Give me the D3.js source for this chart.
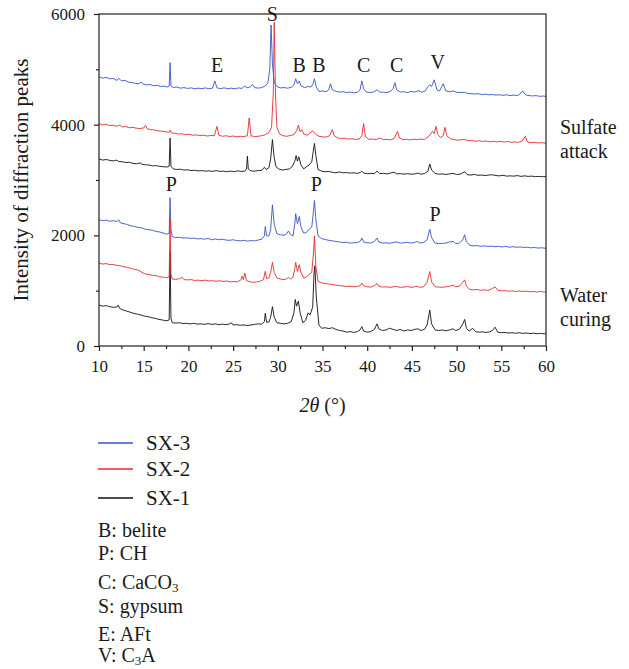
<!DOCTYPE html>
<html>
<head>
<meta charset="utf-8">
<script src="https://cdn.jsdelivr.net/npm/d3@7"></script>
<style>
  body { margin: 0; background: #fff; }
  svg { display: block; font-family: "Liberation Serif", "DejaVu Serif", serif; }
  text { fill: #1a1a1a; }
</style>
</head>
<body>
<svg id="chart" width="629" height="669"></svg>
<script>
// X-ray diffraction patterns, intensity vs 2θ, for three mixes
// after sulfate attack (upper group) and after water curing (lower group).

const seriesNames = ["SX-3", "SX-2", "SX-1"];
const seriesColors = { "SX-3": "#3554c8", "SX-2": "#e82a2c", "SX-1": "#111111" };

const xMajorTicks = [10, 15, 20, 25, 30, 35, 40, 45, 50, 55, 60];
const xMinorTicks = [12.5, 17.5, 22.5, 27.5, 32.5, 37.5, 42.5, 47.5, 52.5, 57.5];
const yMajorTicks = [0, 2000, 4000, 6000];
const yMinorTicks = [1000, 3000, 5000];

// ---- sulfate attack ----
const sx3Sulfate = [[10,4865],[10.4,4840],[10.8,4855],[11.2,4830],[11.6,4835],[12.0,4800],[12.2,4840],[12.5,4790],[12.9,4800],[13.3,4770],[13.7,4760],[14.1,4745],[14.5,4740],[14.7,4775],[14.9,4735],[15.3,4720],[15.7,4725],[16.1,4705],[16.5,4710],[16.9,4690],[17.3,4695],[17.7,4680],[17.85,4700],[17.95,5120],[18.05,4700],[18.3,4670],[18.7,4680],[19.1,4660],[19.5,4670],[19.9,4655],[20.3,4665],[20.7,4650],[21.1,4660],[21.5,4650],[21.9,4665],[22.3,4648],[22.7,4660],[22.95,4790],[23.2,4665],[23.6,4650],[24.0,4665],[24.4,4650],[24.8,4660],[25.2,4648],[25.6,4665],[26.0,4655],[26.3,4705],[26.5,4665],[26.9,4680],[27.2,4725],[27.4,4670],[27.8,4660],[28.2,4670],[28.6,4700],[28.9,4760],[29.1,5000],[29.25,5800],[29.4,5100],[29.6,4760],[29.9,4690],[30.3,4665],[30.7,4670],[31.1,4660],[31.5,4675],[31.8,4720],[32.0,4830],[32.2,4740],[32.4,4790],[32.6,4700],[33.0,4670],[33.4,4690],[33.7,4680],[33.95,4740],[34.1,4830],[34.3,4680],[34.6,4600],[35.0,4610],[35.4,4595],[35.7,4630],[35.9,4740],[36.1,4630],[36.5,4600],[36.9,4590],[37.3,4595],[37.7,4580],[38.1,4590],[38.5,4575],[38.9,4585],[39.2,4630],[39.4,4790],[39.6,4650],[39.9,4590],[40.3,4580],[40.7,4590],[41.1,4630],[41.4,4590],[41.8,4585],[42.2,4580],[42.6,4600],[42.9,4650],[43.1,4760],[43.3,4630],[43.7,4590],[44.1,4595],[44.5,4580],[44.9,4600],[45.3,4590],[45.8,4615],[46.1,4585],[46.5,4610],[46.8,4690],[47.0,4720],[47.2,4690],[47.5,4810],[47.8,4630],[48.1,4610],[48.5,4740],[48.8,4610],[49.2,4595],[49.6,4610],[50.0,4585],[50.4,4580],[50.9,4585],[51.2,4565],[51.6,4560],[52.0,4555],[52.4,4560],[52.8,4545],[53.2,4550],[53.6,4540],[54.0,4545],[54.4,4535],[54.8,4540],[55.2,4530],[55.6,4540],[56.0,4525],[56.4,4535],[56.8,4525],[57.1,4555],[57.4,4610],[57.7,4540],[58.1,4525],[58.5,4520],[58.9,4525],[59.3,4512],[59.7,4518],[60,4510]];

const sx2Sulfate = [[10,4020],[10.4,3995],[10.8,4005],[11.2,3985],[11.6,3990],[12.0,3970],[12.3,3995],[12.6,3960],[13.0,3965],[13.4,3945],[13.8,3950],[14.2,3935],[14.6,3930],[15.0,3940],[15.2,3985],[15.4,3925],[15.8,3910],[16.2,3905],[16.6,3890],[17.0,3880],[17.4,3875],[17.8,3860],[17.95,3900],[18.1,3850],[18.5,3845],[18.9,3830],[19.3,3835],[19.7,3820],[20.1,3825],[20.5,3810],[20.9,3815],[21.3,3800],[21.7,3810],[22.1,3795],[22.5,3805],[22.9,3800],[23.2,3970],[23.4,3810],[23.8,3790],[24.2,3800],[24.6,3785],[25.0,3795],[25.4,3780],[25.8,3790],[26.2,3785],[26.6,3800],[26.8,4120],[27.0,3800],[27.4,3785],[27.8,3790],[28.2,3800],[28.6,3820],[29.0,3860],[29.3,3950],[29.5,4600],[29.6,5850],[29.75,4500],[29.9,3950],[30.2,3830],[30.6,3800],[31.0,3790],[31.4,3805],[31.8,3820],[32.1,3890],[32.3,3990],[32.5,3870],[32.7,3910],[32.9,3830],[33.3,3810],[33.6,3850],[33.9,3890],[34.2,3830],[34.6,3790],[35.0,3780],[35.4,3775],[35.8,3800],[36.1,3910],[36.3,3800],[36.7,3760],[37.1,3750],[37.5,3755],[37.9,3740],[38.3,3745],[38.7,3735],[39.1,3740],[39.4,3800],[39.6,4020],[39.8,3780],[40.2,3735],[40.6,3740],[41.0,3730],[41.4,3760],[41.8,3730],[42.2,3735],[42.6,3725],[43.0,3750],[43.4,3880],[43.6,3760],[44.0,3730],[44.4,3735],[44.8,3725],[45.2,3735],[45.6,3730],[46.0,3740],[46.4,3730],[46.9,3790],[47.3,3880],[47.5,3840],[47.7,3970],[47.9,3820],[48.2,3770],[48.5,3800],[48.7,3950],[48.9,3800],[49.3,3745],[49.7,3730],[50.1,3720],[50.5,3725],[50.9,3735],[51.3,3710],[51.7,3715],[52.1,3700],[52.5,3710],[52.9,3695],[53.3,3705],[53.7,3690],[54.1,3700],[54.5,3690],[54.9,3700],[55.3,3685],[55.7,3695],[56.1,3680],[56.5,3690],[56.9,3680],[57.3,3700],[57.7,3790],[57.9,3690],[58.3,3675],[58.7,3680],[59.1,3670],[59.5,3675],[60,3665]];

const sx1Sulfate = [[10,3380],[10.4,3360],[10.8,3370],[11.2,3355],[11.6,3345],[12.0,3360],[12.2,3335],[12.6,3330],[13.0,3315],[13.4,3320],[13.8,3300],[14.2,3295],[14.6,3310],[14.8,3285],[15.2,3275],[15.6,3270],[16.0,3255],[16.4,3260],[16.8,3245],[17.2,3240],[17.6,3235],[17.85,3250],[17.95,3760],[18.05,3250],[18.3,3200],[18.7,3190],[19.1,3195],[19.5,3180],[19.9,3185],[20.3,3170],[20.7,3175],[21.1,3165],[21.5,3170],[21.9,3160],[22.3,3165],[22.7,3155],[23.1,3170],[23.5,3155],[23.9,3160],[24.3,3150],[24.7,3160],[25.1,3150],[25.5,3165],[25.9,3155],[26.3,3160],[26.5,3200],[26.6,3430],[26.7,3200],[27.0,3165],[27.4,3160],[27.8,3170],[28.2,3175],[28.5,3230],[28.7,3190],[29.0,3220],[29.2,3380],[29.4,3730],[29.6,3400],[29.8,3240],[30.1,3200],[30.5,3180],[30.9,3190],[31.3,3200],[31.6,3240],[31.9,3340],[32.05,3440],[32.2,3340],[32.35,3420],[32.6,3270],[32.9,3200],[33.2,3240],[33.5,3270],[33.8,3330],[34.0,3560],[34.1,3660],[34.25,3450],[34.5,3190],[34.9,3160],[35.3,3150],[35.7,3155],[36.1,3140],[36.5,3130],[36.9,3145],[37.3,3130],[37.7,3135],[38.1,3125],[38.5,3130],[38.9,3120],[39.2,3135],[39.4,3160],[39.6,3125],[40.0,3115],[40.4,3120],[40.8,3115],[41.1,3160],[41.4,3115],[41.8,3120],[42.2,3110],[42.6,3125],[43.0,3140],[43.3,3110],[43.7,3115],[44.1,3105],[44.5,3115],[44.9,3105],[45.3,3110],[45.7,3125],[46.0,3105],[46.4,3115],[46.8,3160],[47.0,3290],[47.2,3180],[47.6,3120],[48.0,3105],[48.4,3110],[48.8,3100],[49.2,3110],[49.6,3120],[50.0,3100],[50.4,3105],[50.9,3150],[51.2,3095],[51.6,3090],[52.0,3100],[52.4,3085],[52.8,3090],[53.2,3080],[53.6,3090],[54.0,3095],[54.4,3080],[54.8,3075],[55.2,3085],[55.6,3070],[56.0,3075],[56.4,3070],[56.8,3080],[57.2,3065],[57.6,3075],[58.0,3065],[58.4,3070],[58.8,3060],[59.2,3065],[59.6,3060],[60,3060]];

// ---- water curing ----
const sx3Water = [[10,2280],[10.4,2265],[10.8,2275],[11.2,2255],[11.6,2265],[12.0,2250],[12.2,2280],[12.4,2225],[12.8,2210],[13.2,2195],[13.6,2170],[14.0,2160],[14.4,2140],[14.8,2135],[15.2,2110],[15.6,2100],[16.0,2090],[16.4,2070],[16.8,2060],[17.2,2040],[17.6,2020],[17.85,2040],[17.95,2680],[18.05,2100],[18.2,1975],[18.6,1960],[19.0,1965],[19.4,1950],[19.8,1955],[20.2,1945],[20.6,1950],[21.0,1935],[21.4,1940],[21.8,1930],[22.2,1945],[22.6,1920],[23.0,1935],[23.4,1920],[23.8,1930],[24.2,1915],[24.6,1910],[25.0,1920],[25.4,1905],[25.8,1900],[26.2,1910],[26.6,1895],[27.0,1905],[27.4,1900],[27.8,1915],[28.2,1930],[28.5,1990],[28.6,2160],[28.75,1990],[29.0,1990],[29.2,2100],[29.4,2550],[29.6,2200],[29.9,2030],[30.3,2010],[30.7,2000],[31.0,2030],[31.2,2080],[31.4,2020],[31.7,1990],[31.9,2200],[32.0,2390],[32.2,2210],[32.4,2340],[32.6,2150],[32.9,2040],[33.2,2050],[33.5,2110],[33.8,2150],[34.0,2450],[34.1,2630],[34.25,2300],[34.5,1990],[34.9,1940],[35.3,1925],[35.7,1910],[36.1,1900],[36.5,1890],[36.9,1880],[37.3,1870],[37.7,1875],[38.1,1860],[38.5,1865],[38.9,1870],[39.2,1890],[39.4,1950],[39.6,1880],[40.0,1865],[40.4,1860],[40.8,1890],[41.1,1950],[41.3,1880],[41.7,1860],[42.1,1865],[42.5,1855],[42.9,1870],[43.3,1880],[43.7,1860],[44.1,1865],[44.5,1875],[44.9,1860],[45.3,1870],[45.6,1890],[45.9,1860],[46.3,1870],[46.7,1920],[47.0,2110],[47.2,1960],[47.6,1860],[48.0,1850],[48.4,1855],[48.8,1860],[49.2,1880],[49.6,1890],[49.9,1850],[50.3,1860],[50.7,1920],[50.9,2010],[51.1,1880],[51.5,1820],[51.9,1810],[52.3,1815],[52.7,1800],[53.1,1810],[53.5,1800],[53.9,1805],[54.3,1795],[54.7,1800],[55.1,1790],[55.5,1800],[55.9,1785],[56.3,1795],[56.7,1785],[57.1,1790],[57.5,1780],[57.9,1785],[58.3,1775],[58.7,1780],[59.1,1770],[59.5,1775],[60,1765]];

const sx2Water = [[10,1500],[10.4,1480],[10.8,1490],[11.2,1470],[11.6,1475],[12.0,1455],[12.4,1450],[12.8,1430],[13.2,1420],[13.6,1400],[14.0,1385],[14.4,1370],[14.8,1330],[15.2,1300],[15.6,1290],[16.0,1275],[16.4,1270],[16.8,1250],[17.2,1245],[17.6,1230],[17.85,1250],[17.95,2300],[18.05,1300],[18.2,1210],[18.6,1205],[19.0,1215],[19.3,1240],[19.5,1200],[19.9,1195],[20.3,1200],[20.7,1185],[21.1,1190],[21.5,1180],[21.9,1190],[22.3,1175],[22.7,1180],[23.1,1170],[23.5,1180],[23.9,1165],[24.3,1175],[24.7,1160],[25.1,1165],[25.5,1160],[25.9,1200],[26.0,1260],[26.15,1200],[26.3,1320],[26.5,1180],[26.9,1160],[27.3,1150],[27.7,1160],[28.1,1175],[28.4,1200],[28.6,1350],[28.75,1220],[29.0,1230],[29.2,1330],[29.4,1510],[29.6,1330],[29.9,1230],[30.3,1210],[30.7,1200],[31.0,1215],[31.2,1240],[31.4,1210],[31.7,1240],[31.9,1400],[32.0,1510],[32.2,1350],[32.4,1470],[32.6,1330],[32.9,1230],[33.2,1250],[33.5,1290],[33.8,1330],[34.0,1700],[34.1,1990],[34.25,1450],[34.5,1170],[34.9,1140],[35.3,1130],[35.7,1120],[36.1,1110],[36.5,1100],[36.9,1090],[37.3,1085],[37.7,1075],[38.1,1080],[38.5,1070],[38.9,1075],[39.2,1090],[39.4,1135],[39.6,1085],[40.0,1070],[40.4,1065],[40.8,1090],[41.1,1130],[41.3,1080],[41.7,1065],[42.1,1070],[42.5,1060],[42.9,1070],[43.3,1075],[43.7,1060],[44.1,1065],[44.5,1075],[44.9,1060],[45.3,1070],[45.6,1080],[45.9,1060],[46.3,1070],[46.7,1150],[47.0,1345],[47.2,1160],[47.6,1070],[48.0,1065],[48.4,1060],[48.8,1070],[49.2,1080],[49.6,1100],[49.9,1070],[50.3,1080],[50.7,1150],[50.9,1195],[51.1,1080],[51.5,1020],[51.9,1015],[52.3,1020],[52.7,1005],[53.1,1015],[53.5,1005],[53.9,1030],[54.3,1070],[54.6,1010],[55.0,995],[55.4,1000],[55.8,990],[56.2,995],[56.6,985],[57.0,995],[57.4,985],[57.8,990],[58.2,980],[58.6,985],[59.0,975],[59.4,985],[59.8,975],[60,980]];

const sx1Water = [[10,740],[10.4,720],[10.8,730],[11.2,710],[11.6,700],[12.0,705],[12.15,740],[12.3,680],[12.7,650],[13.1,630],[13.5,610],[13.9,590],[14.3,575],[14.7,560],[15.1,540],[15.5,530],[15.9,510],[16.3,500],[16.7,480],[17.1,470],[17.5,455],[17.85,470],[17.95,1710],[18.05,500],[18.2,420],[18.6,415],[19.0,420],[19.4,405],[19.8,410],[20.2,400],[20.6,410],[21.0,395],[21.4,400],[21.8,390],[22.2,405],[22.6,390],[23.0,400],[23.4,385],[23.8,395],[24.2,385],[24.6,400],[24.8,420],[25.0,380],[25.4,385],[25.8,375],[26.2,380],[26.6,370],[27.0,380],[27.4,390],[27.8,400],[28.2,395],[28.5,440],[28.6,590],[28.75,430],[29.0,430],[29.2,520],[29.4,710],[29.6,520],[29.9,420],[30.3,410],[30.7,400],[31.1,410],[31.5,440],[31.8,600],[31.95,840],[32.1,720],[32.3,810],[32.5,600],[32.8,420],[33.1,460],[33.4,600],[33.6,560],[33.9,700],[34.05,1300],[34.15,1450],[34.3,900],[34.6,380],[34.9,320],[35.3,330],[35.7,315],[36.1,330],[36.5,300],[36.9,280],[37.3,270],[37.7,250],[38.1,260],[38.5,245],[38.9,260],[39.2,290],[39.4,350],[39.6,270],[40.0,250],[40.4,260],[40.8,300],[41.1,400],[41.3,310],[41.7,280],[42.1,290],[42.5,320],[42.9,300],[43.3,280],[43.7,300],[44.1,270],[44.5,290],[44.9,280],[45.3,300],[45.7,310],[46.0,280],[46.4,300],[46.7,380],[47.0,650],[47.2,400],[47.6,290],[48.0,280],[48.4,290],[48.8,275],[49.2,290],[49.6,310],[49.9,280],[50.3,300],[50.7,400],[50.9,480],[51.1,320],[51.4,270],[51.8,320],[52.1,260],[52.5,250],[52.9,255],[53.3,245],[53.7,255],[54.0,280],[54.3,340],[54.6,250],[55.0,240],[55.4,245],[55.8,235],[56.2,240],[56.6,230],[57.0,240],[57.4,228],[57.8,235],[58.2,225],[58.6,232],[59.0,222],[59.4,228],[59.8,220],[60,222]];

// phase markers: letter and [2θ, intensity] anchor of the letter
const peakLabels = [
  ["S", 29.4, 5870], ["E", 23.2, 4950], ["B", 32.4, 4950], ["B", 34.6, 4950],
  ["C", 39.6, 4950], ["C", 43.3, 4950], ["V", 47.9, 5010],
  ["P", 18.1, 2800], ["P", 34.3, 2800], ["P", 47.6, 2260]
];

const phaseKey = [
  ["B: belite"], ["P: CH"], ["C: CaCO", "3"], ["S: gypsum"], ["E: AFt"], ["V: C", "3", "A"]
];

const traces = [
  { name: "SX-1", data: sx1Sulfate }, { name: "SX-1", data: sx1Water },
  { name: "SX-3", data: sx3Sulfate }, { name: "SX-3", data: sx3Water },
  { name: "SX-2", data: sx2Sulfate }, { name: "SX-2", data: sx2Water }
];

const serif = "'Liberation Serif', 'DejaVu Serif', serif";
const svg = d3.select("#chart").attr("font-family", serif);
const plot = { left: 99, right: 546, top: 14, bottom: 346 };

const x = d3.scaleLinear().domain([10, 60]).range([plot.left, plot.right]);
const y = d3.scaleLinear().domain([0, 6000]).range([plot.bottom, plot.top]);

const line = d3.line().x(d => x(d[0])).y(d => y(d[1]));

// traces
svg.append("g").selectAll("path").data(traces).join("path")
  .attr("d", d => line(d.data))
  .attr("fill", "none")
  .attr("stroke", d => seriesColors[d.name])
  .attr("stroke-width", 0.9)
  .attr("stroke-linejoin", "round");

// frame
svg.append("rect")
  .attr("x", plot.left).attr("y", plot.top)
  .attr("width", plot.right - plot.left).attr("height", plot.bottom - plot.top)
  .attr("fill", "none").attr("stroke", "#222").attr("stroke-width", 1.2);

function styleAxis(g) {
  g.select(".domain").remove();
  g.selectAll(".tick line").attr("stroke", "#222").attr("stroke-width", 1.2);
  g.selectAll(".tick text").attr("font-family", serif).attr("font-size", 17).attr("fill", "#1a1a1a");
}

svg.append("g").attr("transform", `translate(0,${plot.bottom})`)
  .call(d3.axisBottom(x).tickValues(xMajorTicks).tickSize(5).tickPadding(9).tickFormat(d3.format("d")))
  .call(styleAxis);
svg.append("g").attr("transform", `translate(0,${plot.bottom})`)
  .call(d3.axisBottom(x).tickValues(xMinorTicks).tickSize(3).tickFormat(""))
  .call(styleAxis);
svg.append("g").attr("transform", `translate(${plot.left},0)`)
  .call(d3.axisLeft(y).tickValues(yMajorTicks).tickSize(5).tickPadding(9).tickFormat(d3.format("d")))
  .call(styleAxis);
svg.append("g").attr("transform", `translate(${plot.left},0)`)
  .call(d3.axisLeft(y).tickValues(yMinorTicks).tickSize(3).tickFormat(""))
  .call(styleAxis);

// axis titles
const xt = svg.append("text").attr("x", (plot.left + plot.right) / 2).attr("y", 412)
  .attr("text-anchor", "middle").attr("font-size", 20);
xt.append("tspan").attr("font-style", "italic").text("2θ");
xt.append("tspan").text(" (°)");

svg.append("text")
  .attr("transform", `translate(28,${(plot.top + plot.bottom) / 2}) rotate(-90)`)
  .attr("text-anchor", "middle").attr("font-size", 21)
  .text("Intensity of diffraction peaks");

// phase letters above peaks
svg.append("g").selectAll("text").data(peakLabels).join("text")
  .attr("x", d => x(d[1])).attr("y", d => y(d[2]))
  .attr("text-anchor", "middle").attr("font-size", 20)
  .text(d => d[0]);

// group captions
const captions = [["Sulfate", "attack", 3830], ["Water", "curing", 800]];
captions.forEach(c => {
  const t = svg.append("text").attr("x", 560).attr("y", y(c[2])).attr("font-size", 20);
  t.append("tspan").attr("x", 560).text(c[0]);
  t.append("tspan").attr("x", 560).attr("dy", 24).text(c[1]);
});

// series legend
const legend = svg.append("g");
seriesNames.forEach((n, i) => {
  const ly = [443, 469, 498][i];
  legend.append("line").attr("x1", 98).attr("x2", 133).attr("y1", ly).attr("y2", ly)
    .attr("stroke", seriesColors[n]).attr("stroke-width", 1.4);
  legend.append("text").attr("x", 146).attr("y", ly + 7).attr("font-size", 21).text(n);
});

// phase key
const keyY = [537, 560, 589, 613, 641, 662];
phaseKey.forEach((parts, i) => {
  const t = svg.append("text").attr("x", 98).attr("y", keyY[i]).attr("font-size", 20);
  parts.forEach((p, j) => {
    const sub = j % 2 === 1;
    t.append("tspan").attr("dy", sub ? 3 : (j > 0 ? -3 : 0))
      .attr("font-size", sub ? 13 : 20).text(p);
  });
});
</script>
</body>
</html>
